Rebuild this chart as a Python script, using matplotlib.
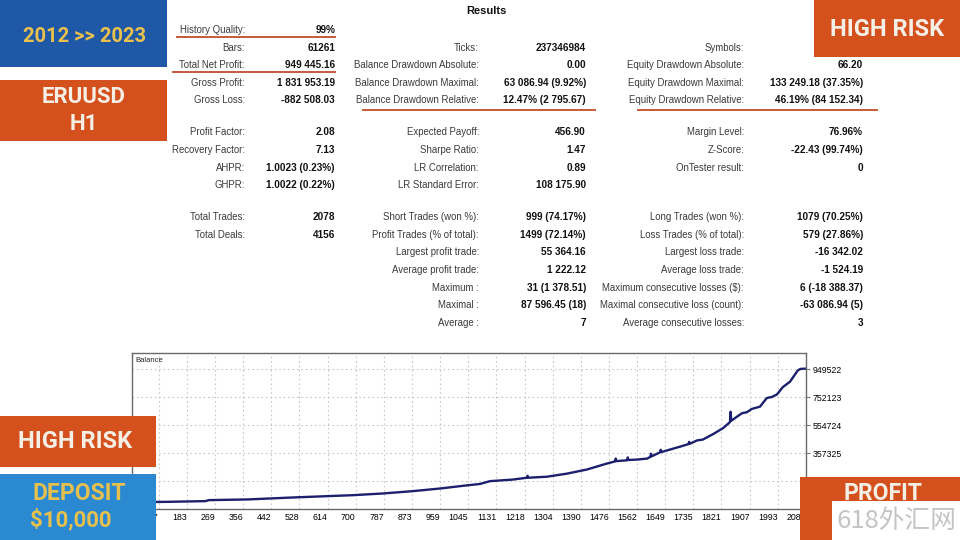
import matplotlib.pyplot as plt
from matplotlib.patches import Rectangle
from matplotlib.lines import Line2D

W, H = 960, 540
TABLE_FONT = "Liberation Sans"
BANNER_FONT = "Roboto"

# balance curve (trade number, balance)
trade_no = [0, 120, 240, 250, 370, 510, 612, 692, 784, 873, 959, 1029, 1081, 1112,
            1182, 1225, 1227, 1229, 1286, 1348, 1409, 1470, 1495, 1497, 1499, 1532,
            1534, 1536, 1562, 1593, 1603, 1605, 1607, 1633, 1635, 1637, 1664, 1694,
            1720, 1722, 1724, 1746, 1764, 1795, 1826, 1847, 1849, 1851, 1884, 1899,
            1914, 1939, 1960, 1975, 1991, 2009, 2031, 2055, 2063, 2078]
balance = [10000, 13000, 18000, 25000, 30000, 44000, 53000, 60000, 72000, 88000,
           107000, 126000, 139000, 159000, 170000, 183000, 197000, 183000, 190000,
           212000, 241000, 283000, 298000, 318000, 300000, 306000, 326000, 308000,
           311000, 318000, 330000, 352000, 334000, 362000, 380000, 364000, 382000,
           402000, 420000, 436000, 422000, 446000, 452000, 490000, 533000, 575000,
           648000, 585000, 638000, 645000, 668000, 684000, 745000, 752000, 770000,
           822000, 860000, 940000, 950000, 952000]

x_ticks = [97, 183, 269, 356, 442, 528, 614, 700, 787, 873, 959, 1045, 1131, 1218,
           1304, 1390, 1476, 1562, 1649, 1735, 1821, 1907, 1993, 2080]
y_ticks = [159926, 357325, 554724, 752123, 949522]

# report table, 16 row slots per column ("" = empty slot)
col1_labels = ["History Quality:", "Bars:", "Total Net Profit:", "Gross Profit:", "Gross Loss:",
               "Profit Factor:", "Recovery Factor:", "AHPR:", "GHPR:",
               "Total Trades:", "Total Deals:", "", "", "", "", ""]
col1_values = ["99%", "61261", "949 445.16", "1 831 953.19", "-882 508.03",
               "2.08", "7.13", "1.0023 (0.23%)", "1.0022 (0.22%)",
               "2078", "4156", "", "", "", "", ""]
col2_labels = ["", "Ticks:", "Balance Drawdown Absolute:", "Balance Drawdown Maximal:",
               "Balance Drawdown Relative:",
               "Expected Payoff:", "Sharpe Ratio:", "LR Correlation:", "LR Standard Error:",
               "Short Trades (won %):", "Profit Trades (% of total):", "Largest profit trade:",
               "Average profit trade:", "Maximum :", "Maximal :", "Average :"]
col2_values = ["", "237346984", "0.00", "63 086.94 (9.92%)", "12.47% (2 795.67)",
               "456.90", "1.47", "0.89", "108 175.90",
               "999 (74.17%)", "1499 (72.14%)", "55 364.16", "1 222.12",
               "31 (1 378.51)", "87 596.45 (18)", "7"]
col3_labels = ["", "Symbols:", "Equity Drawdown Absolute:", "Equity Drawdown Maximal:",
               "Equity Drawdown Relative:",
               "Margin Level:", "Z-Score:", "OnTester result:", "",
               "Long Trades (won %):", "Loss Trades (% of total):", "Largest loss trade:",
               "Average loss trade:", "Maximum consecutive losses ($):",
               "Maximal consecutive loss (count):", "Average consecutive losses:"]
col3_values = ["", "", "66.20", "133 249.18 (37.35%)", "46.19% (84 152.34)",
               "76.96%", "-22.43 (99.74%)", "0", "",
               "1079 (70.25%)", "579 (27.86%)", "-16 342.02", "-1 524.19",
               "6 (-18 388.37)", "-63 086.94 (5)", "3"]


def fx(x):
    return x / W


def fy(y):
    return 1 - y / H


def row_y(i):
    block = 0 if i < 5 else (1 if i < 9 else 2)
    return 30 + 17.6 * i + 14.4 * block


def box(x0, y0, x1, y1, color):
    fig.add_artist(Rectangle((fx(x0), fy(y1)), (x1 - x0) / W, (y1 - y0) / H,
                             transform=fig.transFigure, facecolor=color,
                             edgecolor='none', zorder=5))


def banner(x, y, s, color, size):
    fig.text(fx(x), fy(y), s, ha='center', va='center', color=color, fontsize=size,
             fontweight='bold', family=BANNER_FONT, zorder=6)


fig = plt.figure(figsize=(9.6, 5.4), dpi=100)
fig.patch.set_facecolor('white')

# --- results table ---
fig.text(fx(486), fy(11), "Results", ha='center', va='center', fontsize=8,
         fontweight='bold', family=TABLE_FONT, color='#111111')
columns = [(col1_labels, col1_values, 245, 335),
           (col2_labels, col2_values, 479, 586),
           (col3_labels, col3_values, 744, 863)]
for labels, values, xl, xv in columns:
    for i, (lab, val) in enumerate(zip(labels, values)):
        if lab:
            fig.text(fx(xl), fy(row_y(i)), lab, ha='right', va='center', fontsize=6.9,
                     family=TABLE_FONT, color='#3a3a3a')
        if val:
            fig.text(fx(xv), fy(row_y(i)), val, ha='right', va='center', fontsize=7.2,
                     fontweight='bold', family=TABLE_FONT, color='#111111')

for x0, x1, y in [(177, 335, 37), (173, 335, 72), (363, 595, 110), (638, 877, 110)]:
    fig.add_artist(Line2D([fx(x0), fx(x1)], [fy(y), fy(y)], color='#c65a38', lw=1.4,
                          transform=fig.transFigure))

# --- balance graph ---
ax = fig.add_axes([fx(132), fy(509), (806 - 132) / W, (509 - 353) / H])
ax.plot(trade_no, balance, color='#1c1f6e', lw=1.7)
ax.set_xlim(15, 2080)
ax.set_ylim(-37473, 1062322)
ax.set_xticks(x_ticks)
ax.set_xticklabels([str(v) for v in x_ticks], ha='right')
ax.set_yticks(y_ticks)
ax.set_yticklabels([str(v) for v in y_ticks])
ax.yaxis.tick_right()
ax.grid(True, color='#c8c8c8', linestyle=(0, (1.5, 2.5)), lw=0.8)
ax.tick_params(axis='x', length=0, pad=3, labelsize=6.3)
ax.tick_params(axis='y', length=3, pad=2, labelsize=6.3, color='#777777')
for lbl in ax.get_xticklabels() + ax.get_yticklabels():
    lbl.set_family(TABLE_FONT)
for s in ax.spines.values():
    s.set_color('#6a6a6a')
    s.set_linewidth(1)
ax.text(0.005, 0.955, "Balance", transform=ax.transAxes, fontsize=5.5, va='center',
        family=TABLE_FONT, color='#222222')

# --- banners ---
box(0, 0, 167, 67, '#1f58a6')
banner(85, 37, "2012 >> 2023", '#e9c14c', 14.5)
box(0, 80, 167, 141, '#d4501c')
banner(84, 97, "ERUUSD", '#f6efe6', 16)
banner(84, 124, "H1", '#f6efe6', 16)
box(814, 0, 960, 57, '#d4501c')
banner(887, 30, "HIGH RISK", '#f6efe6', 17)
box(0, 416, 156, 467, '#d4501c')
banner(75, 442, "HIGH RISK", '#f6efe6', 17)
box(0, 474, 156, 540, '#2b89d2')
banner(79, 494, "DEPOSIT", '#e6c04e', 16.5)
banner(71, 520, "$10,000", '#e6c04e', 16)
box(800, 477, 960, 540, '#d4501c')
banner(883, 494, "PROFIT", '#f6efe6', 16.5)
box(832, 501, 960, 540, '#ffffff')
fig.text(fx(836), fy(521), "618外汇网", ha='left', va='center', fontsize=18.5,
         color='#c4c4c4', family=['Noto Sans CJK SC', 'DejaVu Sans'], zorder=7)

fig.savefig("out.png", dpi=100, facecolor='white')
